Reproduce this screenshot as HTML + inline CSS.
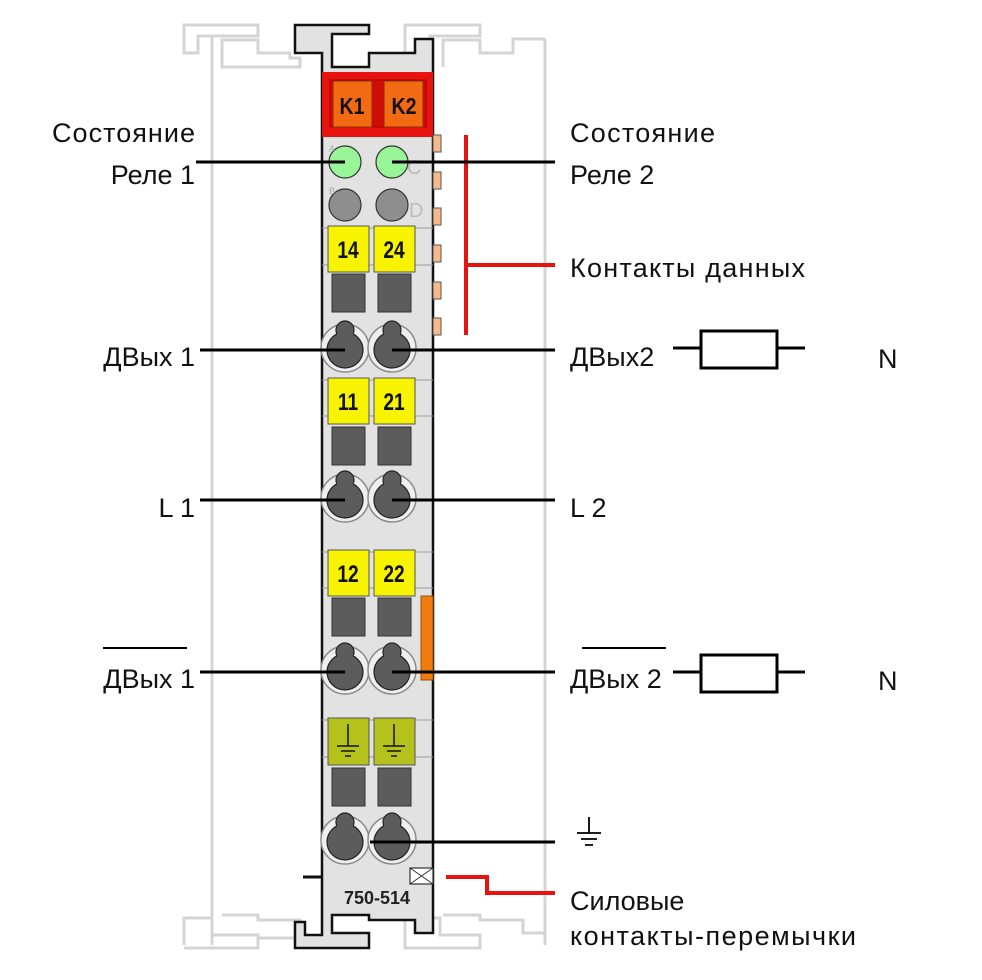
<!DOCTYPE html>
<html><head><meta charset="utf-8"><style>
html,body{margin:0;padding:0;background:#fff}
svg{display:block}
text{font-family:"Liberation Sans",sans-serif}
</style></head><body>
<svg width="982" height="980" viewBox="0 0 982 980" xmlns="http://www.w3.org/2000/svg">
<defs>
<g id="term">
  <circle cx="0" cy="-2" r="24" fill="#efefef" stroke="#8a8a8a" stroke-width="1.5"/>
  <circle cx="0" cy="0" r="18" fill="#5c5c5c" stroke="#222" stroke-width="1.2"/>
  <circle cx="0" cy="-20" r="9" fill="#5c5c5c" stroke="#222" stroke-width="1.2"/>
  <rect x="-8" y="-20" width="16" height="12" fill="#5c5c5c"/>
</g>
<g id="sq"><rect x="0" y="0" width="33" height="38" fill="#5c5c5c" stroke="#333" stroke-width="1"/></g>
</defs>
<!-- rails -->
<g fill="none" stroke="#d4d4d4" stroke-width="3">
  <path d="M212 36 V945"/>
  <path d="M545 39 V945"/>
  <path d="M184 53 V25 H258 V36 H198 V53 Z"/>
  <path d="M222 67 V40 H258 V53 H290 V58 H300 V67 Z"/>
  <path d="M405 53 V25 H480 V36 H430 V53 Z"/>
  <path d="M443 67 V40 H480 V53 H513 V39 H545"/>
  <path d="M184 945 V918 H212 V935 H258 V948 H184"/>
  <path d="M222 915 H258 V920 H300 V938 H258"/>
  <path d="M405 948 V918 H440 V935 H480 V948 Z"/>
  <path d="M443 915 H480 V920 H523 V933 H545"/>
</g>
<!-- module body -->
<path d="M295 25 H369 V34 H332 V67 H369 V53 H415 V39 H433 V933 H415 V920 H369 V915 H332 V933 H369 V948 H295 V922 H305 V935 H322 V53 H305 V53 H295 Z" fill="#e2e2e2" stroke="#111" stroke-width="2.5"/>
<rect x="322" y="72" width="111" height="65" fill="#e8120f"/>
<rect x="330" y="80" width="96" height="47" fill="#d10d0a" stroke="#a00" stroke-width="1"/>
<rect x="333" y="81" width="39" height="46" fill="#f26a12" stroke="#8a3000" stroke-width="1"/>
<rect x="384" y="81" width="39" height="46" fill="#f26a12" stroke="#8a3000" stroke-width="1"/>
<text x="352" y="114" font-size="23" font-weight="bold" text-anchor="middle" fill="#111" transform="translate(352 0) scale(0.85 1) translate(-352 0)">K1</text>
<text x="404" y="114" font-size="23" font-weight="bold" text-anchor="middle" fill="#111" transform="translate(404 0) scale(0.85 1) translate(-404 0)">K2</text>
<!-- LEDs -->
<circle cx="345" cy="162" r="16" fill="#98f598" stroke="#333" stroke-width="1.2"/>
<circle cx="392" cy="162" r="16" fill="#98f598" stroke="#333" stroke-width="1.2"/>
<circle cx="345" cy="205" r="16" fill="#8e8e8e" stroke="#333" stroke-width="1.2"/>
<circle cx="392" cy="205" r="16" fill="#8e8e8e" stroke="#333" stroke-width="1.2"/>
<text x="329" y="152" font-size="9" fill="#aaa">A</text>
<text x="329" y="194" font-size="9" fill="#aaa">B</text>
<text x="407" y="174" font-size="20" fill="#bbb">C</text>
<text x="409" y="217" font-size="20" fill="#bbb">D</text>
<!-- side tabs -->
<g fill="#f7b98a" stroke="#555" stroke-width="1">
<rect x="433" y="135" width="8" height="17"/><rect x="433" y="172" width="8" height="17"/>
<rect x="433" y="208" width="8" height="17"/><rect x="433" y="245" width="8" height="17"/>
<rect x="433" y="282" width="8" height="17"/><rect x="433" y="318" width="8" height="17"/>
</g>
<rect x="421" y="596" width="12" height="84" fill="#f07c10" stroke="#9a5000" stroke-width="1"/>
<g stroke="#999" stroke-width="1">
<path d="M322 228 H433 M322 265 H433 M322 380 H433 M322 416 H433 M322 552 H433 M322 588 H433 M322 720 H433 M322 757 H433"/>
</g>
<g font-size="24" font-weight="bold" text-anchor="middle" fill="#111">
<rect x="328" y="226" width="41" height="46" fill="#f8f400" stroke="#555"/>
<rect x="374" y="226" width="41" height="46" fill="#f8f400" stroke="#555"/>
<text x="348" y="258" transform="translate(348 0) scale(0.8 1) translate(-348 0)">14</text>
<text x="394" y="258" transform="translate(394 0) scale(0.8 1) translate(-394 0)">24</text>
<rect x="328" y="378" width="41" height="46" fill="#f8f400" stroke="#555"/>
<rect x="374" y="378" width="41" height="46" fill="#f8f400" stroke="#555"/>
<text x="348" y="410" transform="translate(348 0) scale(0.8 1) translate(-348 0)">11</text>
<text x="394" y="410" transform="translate(394 0) scale(0.8 1) translate(-394 0)">21</text>
<rect x="328" y="550" width="41" height="46" fill="#f8f400" stroke="#555"/>
<rect x="374" y="550" width="41" height="46" fill="#f8f400" stroke="#555"/>
<text x="348" y="582" transform="translate(348 0) scale(0.8 1) translate(-348 0)">12</text>
<text x="394" y="582" transform="translate(394 0) scale(0.8 1) translate(-394 0)">22</text>
</g>
<use href="#sq" x="332" y="274"/><use href="#sq" x="378" y="274"/>
<use href="#term" x="345" y="350"/><use href="#term" x="392" y="350"/>
<use href="#sq" x="332" y="427"/><use href="#sq" x="378" y="427"/>
<use href="#term" x="345" y="500"/><use href="#term" x="392" y="500"/>
<use href="#sq" x="332" y="598"/><use href="#sq" x="378" y="598"/>
<use href="#term" x="345" y="672"/><use href="#term" x="392" y="672"/>
<rect x="328" y="718" width="41" height="47" fill="#b5c21b" stroke="#555"/>
<rect x="374" y="718" width="41" height="47" fill="#b5c21b" stroke="#555"/>
<g stroke="#111" stroke-width="1.5">
<path d="M348 724 V746 M337 746 H359 M341 751 H355 M345 756 H351"/>
<path d="M394 724 V746 M383 746 H405 M387 751 H401 M391 756 H397"/>
</g>
<use href="#sq" x="332" y="768"/><use href="#sq" x="378" y="768"/>
<use href="#term" x="345" y="842"/><use href="#term" x="392" y="842"/>
<path d="M303 877 H322" stroke="#111" stroke-width="3"/>
<rect x="410" y="868" width="23" height="16" fill="#fff" stroke="#333" stroke-width="1.2"/>
<path d="M410 868 L433 884 M433 868 L410 884" stroke="#333" stroke-width="1"/>
<text x="377" y="904" font-size="18" font-weight="bold" text-anchor="middle" fill="#222">750-514</text>
<g stroke="#e8120f" stroke-width="4" fill="none">
<path d="M466 135 V335 M466 265 H555"/>
<path d="M446 877 H487 V893 H555"/>
</g>
<g stroke="#000" stroke-width="3" fill="none">
<path d="M196 162 H345 M392 162 H555"/>
<path d="M200 350 H345 M392 350 H555"/>
<path d="M200 500 H345 M392 500 H555"/>
<path d="M200 672 H345 M392 672 H555"/>
<path d="M370 842 H555"/>
<path d="M673 348 H701 M777 348 H805"/>
<rect x="701" y="331" width="76" height="37"/>
<path d="M673 672 H701 M777 672 H805"/>
<rect x="701" y="655" width="76" height="37"/>
<path d="M103 648 H187 M582 648 H666" stroke-width="2"/>
</g>
<g stroke="#000" stroke-width="1.8">
<path d="M589 817 V833 M577 833 H601 M581 839 H597 M585 845 H593"/>
</g>
<g font-size="27" fill="#111">
<text x="52" y="142" textLength="143">Состояние</text>
<text x="195" y="184" text-anchor="end">Реле 1</text>
<text x="570" y="142" textLength="145">Состояние</text>
<text x="570" y="184">Реле 2</text>
<text x="570" y="277" textLength="235">Контакты данных</text>
<text x="195" y="366" text-anchor="end">ДВых 1</text>
<text x="570" y="366">ДВых2</text>
<text x="878" y="368">N</text>
<text x="195" y="517" text-anchor="end">L 1</text>
<text x="570" y="517">L 2</text>
<text x="195" y="688" text-anchor="end">ДВых 1</text>
<text x="570" y="688">ДВых 2</text>
<text x="878" y="690">N</text>
<text x="570" y="910">Силовые</text>
<text x="570" y="945" textLength="286">контакты-перемычки</text>
</g>
</svg>
</body></html>
